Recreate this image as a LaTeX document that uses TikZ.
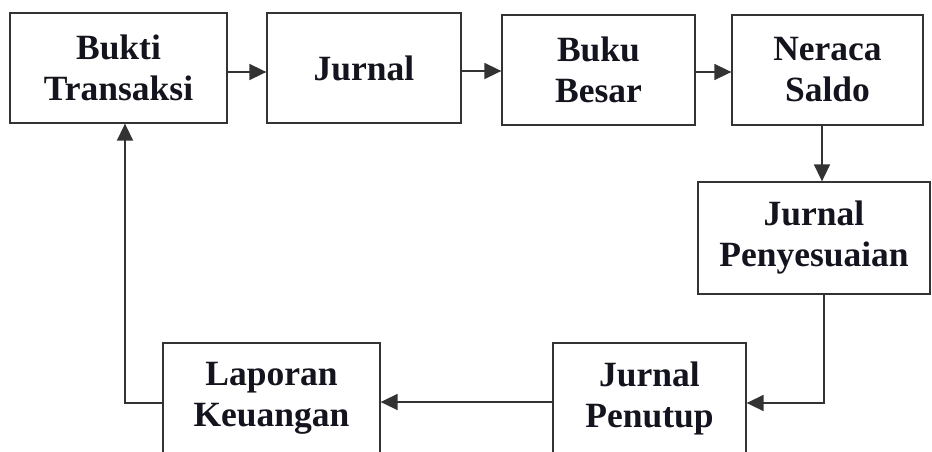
\documentclass[tikz,border=0pt]{standalone}
\usepackage{fontspec}
\setmainfont{Liberation Serif}
\usepackage{tikz}
\usetikzlibrary{arrows.meta}

\definecolor{boxline}{HTML}{333333}
\definecolor{boxtext}{HTML}{14141E}

\tikzset{
	stepbox/.style={draw=boxline,line width=1.3pt,fill=white,align=center,
		inner sep=0pt,text=boxtext,
		font=\fontsize{35.5}{41}\selectfont\bfseries},
	flow/.style={->,color=boxline,line width=1.6pt,>={Triangle[length=17pt,width=16pt]}},
}

\begin{document}
\begin{tikzpicture}[x=1pt,y=-1pt]
		\useasboundingbox (0,0) rectangle (932,452);
		\node[stepbox,minimum width=217pt,minimum height=110pt] (bukti) at (118.5,68) {Bukti\\Transaksi};
		\node[stepbox,minimum width=194pt,minimum height=110pt] (jurnal) at (364,68) {Jurnal};
		\node[stepbox,minimum width=193pt,minimum height=110pt] (buku) at (598.5,70) {Buku\\Besar};
		\node[stepbox,minimum width=191pt,minimum height=110pt] (neraca) at (827.5,70) {Neraca\\Saldo};
		\node[stepbox,minimum width=232pt,minimum height=112pt] (sesuai) at (814,238) {Jurnal\\Penyesuaian};
		\node[stepbox,minimum width=193pt,minimum height=110pt] (tutup) at (649.5,398) {Jurnal\\Penutup};
		\node[stepbox,minimum width=217pt,minimum height=110pt] (lapor) at (271.5,398) {Laporan\\Keuangan};
		%
		\path[flow]
		% top row
		([yshift=-4pt]bukti.east) edge ([yshift=-4pt]bukti.east -| jurnal.west)
		([yshift=-3pt]jurnal.east) edge ([yshift=-3pt]jurnal.east -| buku.west)
		([yshift=-2pt]buku.east) edge ([yshift=-2pt]buku.east -| neraca.west)
		% bottom row
		([yshift=-4pt]tutup.west) edge ([yshift=-4pt]tutup.west -| lapor.east);
		%
		\draw[flow] ([xshift=-5.5pt]neraca.south) -- ([xshift=-5.5pt]neraca.south |- sesuai.north);
		\draw[flow] ([xshift=10pt]sesuai.south) |- ([yshift=-5pt]tutup.east);
		\draw[flow] ([yshift=-5pt]lapor.west) -| ([xshift=6.5pt]bukti.south);
	\end{tikzpicture}
\end{document}
